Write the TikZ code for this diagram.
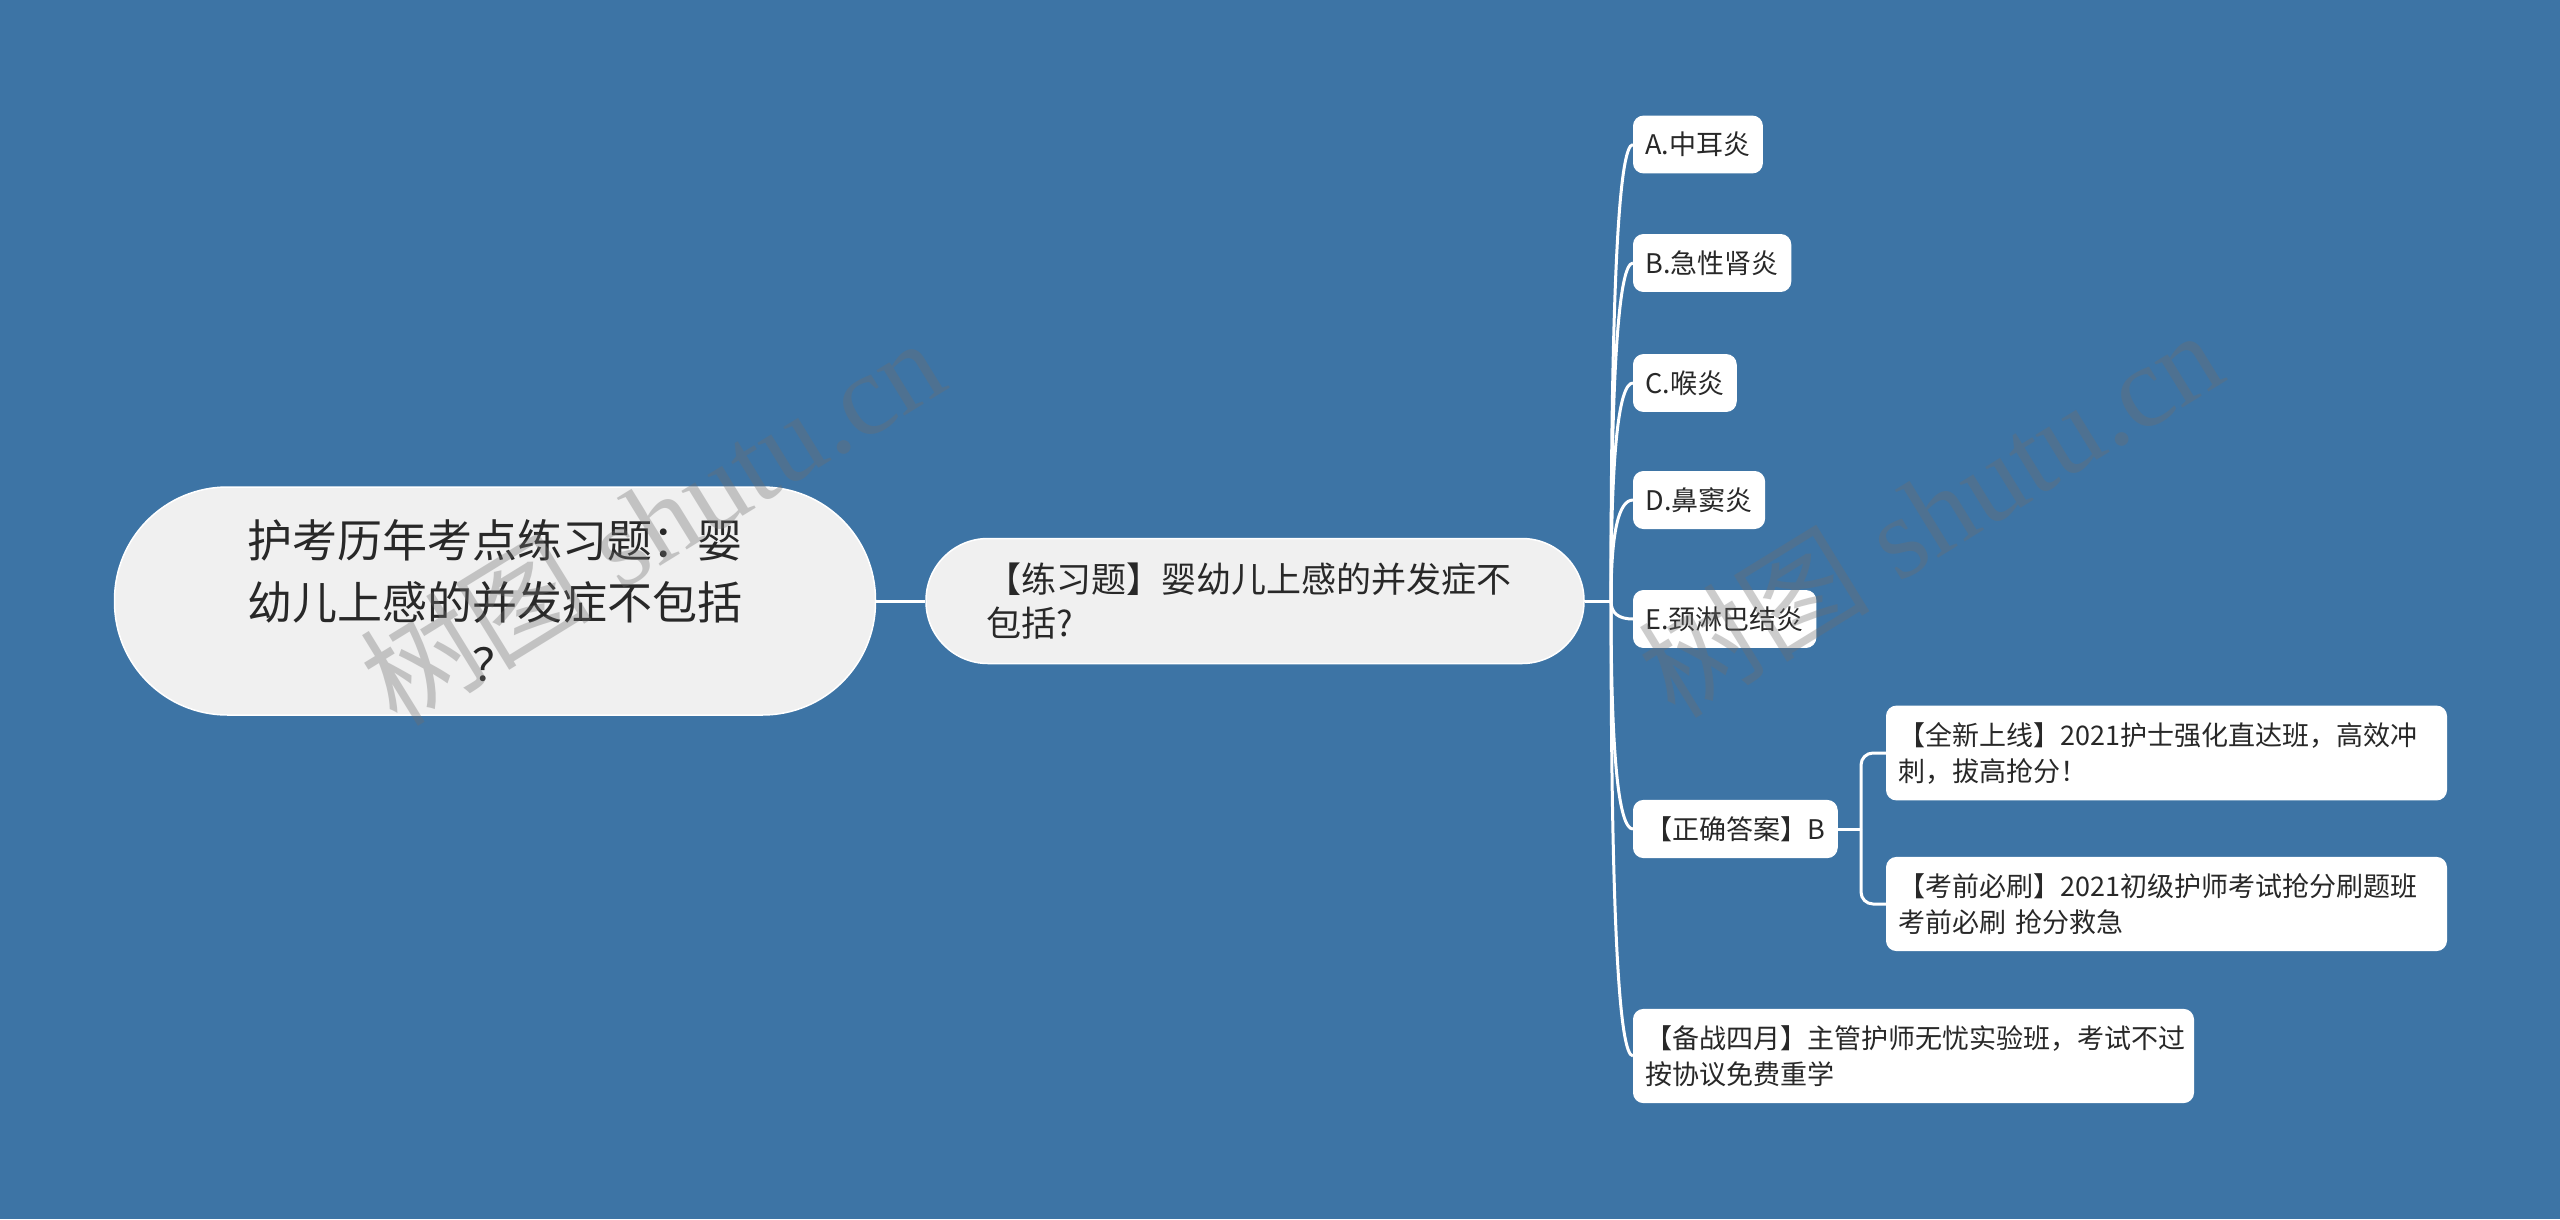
\documentclass[tikz,border=0pt]{standalone}
\usepackage{fontspec}
\setmainfont{Noto Sans CJK SC}
\newfontfamily\cjk{Noto Sans CJK SC}
\newfontfamily\wmserif{Liberation Serif}
\usetikzlibrary{calc}
\definecolor{bgblue}{RGB}{61,116,165}
\definecolor{nodegray}{RGB}{240,240,240}
\definecolor{txt}{RGB}{40,40,40}
\definecolor{wmgray}{RGB}{110,110,110}
\begin{document}
\begin{tikzpicture}[x=1pt,y=-1pt,
  rootbox/.style={draw=white, line width=1.5pt, fill=nodegray, rounded corners=113pt,
    minimum width=761pt, minimum height=228pt, text width=520pt, align=center,
    font=\fontsize{45}{62}\selectfont, text=txt, inner sep=0pt},
  subbox/.style={draw=white, line width=1.5pt, fill=nodegray, rounded corners=62pt,
    minimum width=658pt, minimum height=125pt, text width=538pt, align=left,
    font=\fontsize{35}{44}\selectfont, text=txt, inner xsep=60pt, inner ysep=0pt},
  leaf/.style={draw=white, line width=1pt, fill=white, rounded corners=10pt,
    font=\fontsize{27}{36}\selectfont, text=txt, inner xsep=12pt, inner ysep=16pt, anchor=west},
  leafwide/.style={leaf, text width=#1, align=left},
  conn/.style={draw=white, line width=3pt},
  wm/.style={text=wmgray, text opacity=0.35, font=\wmserif\fontsize{116}{116}\selectfont, rotate=31.6}
]
\fill[bgblue] (0,0) rectangle (2560,1219);
\useasboundingbox (0,0) rectangle (2560,1219);

\node[rootbox] (root) at (495,601) {护考历年考点练习题：婴\\幼儿上感的并发症不包括\\？};
\node[subbox] (sec) at (1255,601) {【练习题】婴幼儿上感的并发症不\\包括?};
\coordinate (J) at (1611,601);
\coordinate (K) at (1861,829);

\node[leaf] (A) at (1633,144.5) {A.中耳炎};
\node[leaf] (B) at (1633,263) {B.急性肾炎};
\node[leaf] (C) at (1633,383) {C.喉炎};
\node[leaf] (D) at (1633,500) {D.鼻窦炎};
\node[leaf] (E) at (1633,619) {E.颈淋巴结炎};
\node[leaf] (ans) at (1633,829) {【正确答案】B};
\node[leafwide=536pt] (bei) at (1633,1056) {【备战四月】主管护师无忧实验班，考试不过\\按协议免费重学};
\node[leafwide=536pt] (quan) at (1886,753) {【全新上线】2021护士强化直达班，高效冲\\刺，拔高抢分！};
\node[leafwide=536pt] (kao) at (1886,904) {【考前必刷】2021初级护师考试抢分刷题班\\考前必刷 抢分救急};

\draw[conn] (root.east) -- (sec.west);
\draw[conn] (sec.east) -- (J);
\foreach \n in {A,B,C,D,E,ans,bei}
  \draw[conn] (J) .. controls ($(J)!0.6667!(J|-\n.west)$) and ($(\n.west)!0.6667!(J|-\n.west)$) .. (\n.west);
\draw[conn] (ans.east) -- (K);
\draw[conn, rounded corners=12pt] (quan.west) -| (K);
\draw[conn, rounded corners=12pt] (kao.west) -| (K);

\node[wm] (wm1) at (652,520) {{\cjk 树图} shutu.cn};
\node[wm] (wm2) at (1930,512) {{\cjk 树图} shutu.cn};
\end{tikzpicture}
\end{document}
